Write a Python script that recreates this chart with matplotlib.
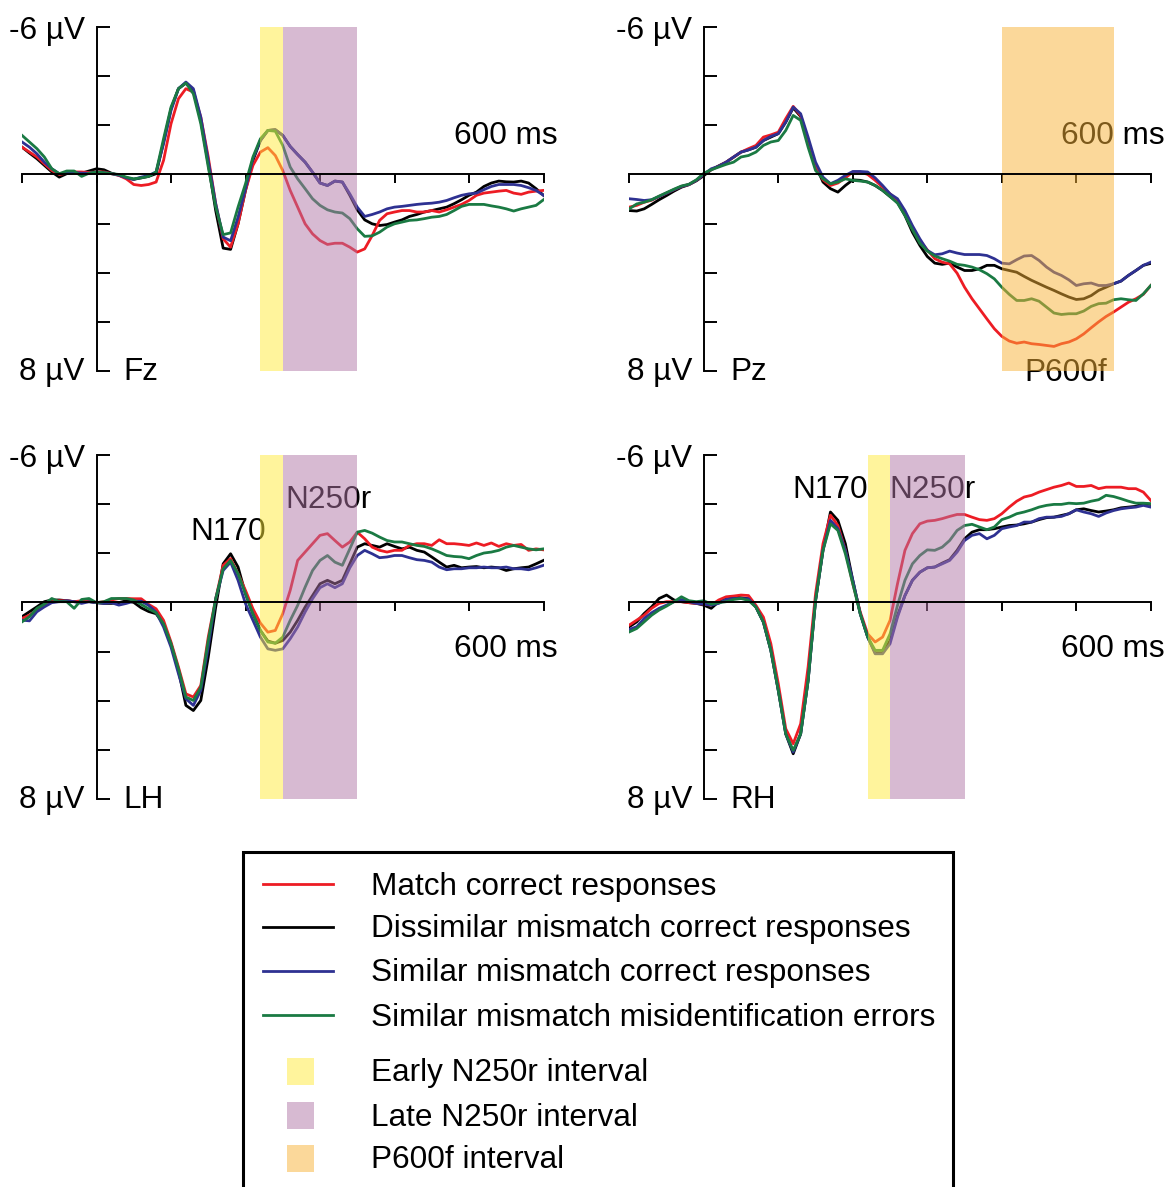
import numpy as np
import matplotlib
matplotlib.use("Agg")
import matplotlib.pyplot as plt
from matplotlib.lines import Line2D
from matplotlib.patches import Rectangle

plt.rcParams['font.family'] = ['Liberation Sans', 'DejaVu Sans']

# ---------------- data (µV, negative plotted upward) ----------------
time_ms = list(range(-100, 601, 10))

conditions = ["Match correct responses",
              "Dissimilar mismatch correct responses",
              "Similar mismatch correct responses",
              "Similar mismatch misidentification errors"]
line_colors = ["#ED1C24", "#000000", "#2E3192", "#1A7A43"]

interval_names = ["Early N250r interval", "Late N250r interval", "P600f interval"]
early_n250r = (220, 250)
late_n250r = (250, 350)
p600f = (400, 550)

fz_match = [-1.11, -0.91, -0.71, -0.43, -0.16, 0.00, -0.05, -0.10, -0.10, -0.08,
            -0.10, -0.10, -0.03, 0.04, 0.18, 0.41, 0.45, 0.41, 0.31, -0.57,
            -2.06, -3.08, -3.49, -3.35, -2.33, -0.71, 1.19, 2.62, 2.96, 2.01,
            0.65, -0.37, -0.91, -1.09, -0.77, -0.16, 0.65, 1.33, 2.01, 2.42,
            2.69, 2.85, 2.80, 2.80, 2.96, 3.16, 3.03, 2.49, 1.87, 1.60,
            1.53, 1.47, 1.47, 1.53, 1.53, 1.47, 1.53, 1.44, 1.33, 1.22,
            1.06, 0.85, 0.76, 0.72, 0.68, 0.65, 0.76, 0.81, 0.72, 0.68,
            0.65]
fz_dissim = [-1.11, -0.87, -0.64, -0.37, -0.10, 0.11, -0.03, -0.08, -0.05, -0.14,
             -0.23, -0.19, -0.05, 0.03, 0.14, 0.20, 0.14, 0.08, -0.03, -1.32,
             -2.67, -3.49, -3.72, -3.42, -2.20, -0.43, 1.47, 3.00, 3.05, 2.01,
             0.65, -0.57, -1.38, -1.79, -1.82, -1.59, -1.14, -0.81, -0.50, -0.09,
             0.35, 0.45, 0.27, 0.31, 0.85, 1.44, 1.85, 2.01, 2.08, 2.04,
             1.94, 1.85, 1.71, 1.63, 1.53, 1.47, 1.40, 1.33, 1.19, 1.03,
             0.85, 0.72, 0.49, 0.35, 0.27, 0.30, 0.31, 0.27, 0.35, 0.58,
             0.85]
fz_similar = [-1.32, -1.11, -0.84, -0.50, -0.23, -0.03, -0.05, -0.08, -0.05, -0.05,
              -0.10, -0.07, -0.03, 0.03, 0.14, 0.20, 0.11, 0.04, -0.10, -1.25,
              -2.60, -3.49, -3.76, -3.49, -2.33, -0.57, 1.19, 2.55, 2.70, 1.74,
              0.58, -0.64, -1.38, -1.79, -1.82, -1.59, -1.14, -0.81, -0.50, -0.09,
              0.35, 0.45, 0.27, 0.31, 0.79, 1.33, 1.71, 1.63, 1.53, 1.40,
              1.33, 1.30, 1.26, 1.22, 1.19, 1.17, 1.13, 1.06, 0.95, 0.85,
              0.79, 0.76, 0.62, 0.49, 0.41, 0.41, 0.41, 0.45, 0.54, 0.65,
              0.85]
fz_errors = [-1.59, -1.32, -1.05, -0.71, -0.23, -0.03, -0.14, -0.14, 0.08, -0.05,
             -0.10, -0.07, -0.03, 0.00, 0.11, 0.18, 0.14, 0.08, -0.10, -1.45,
             -2.74, -3.49, -3.72, -3.28, -2.06, -0.30, 1.33, 2.45, 2.38, 1.33,
             0.38, -0.71, -1.45, -1.79, -1.76, -1.18, -0.30, 0.18, 0.58, 0.99,
             1.26, 1.44, 1.53, 1.57, 1.80, 2.21, 2.52, 2.50, 2.35, 2.14,
             2.01, 1.94, 1.87, 1.85, 1.80, 1.74, 1.71, 1.63, 1.47, 1.30,
             1.22, 1.22, 1.22, 1.28, 1.33, 1.40, 1.49, 1.40, 1.33, 1.26,
             1.03]

pz_match = [1.33, 1.26, 1.13, 1.05, 0.90, 0.76, 0.62, 0.49, 0.41, 0.24,
            0.00, -0.20, -0.33, -0.50, -0.71, -0.91, -1.05, -1.18, -1.52, -1.61,
            -1.72, -2.27, -2.77, -2.40, -1.38, -0.37, 0.22, 0.45, 0.35, 0.14,
            -0.10, -0.10, 0.00, 0.24, 0.52, 0.79, 1.06, 1.60, 2.21, 2.69,
            3.07, 3.43, 3.57, 3.64, 4.02, 4.59, 5.06, 5.47, 5.88, 6.28,
            6.59, 6.78, 6.87, 6.82, 6.89, 6.92, 6.96, 7.00, 6.89, 6.82,
            6.69, 6.49, 6.24, 6.00, 5.78, 5.60, 5.40, 5.20, 5.06, 4.88,
            4.52]
pz_dissim = [1.47, 1.49, 1.40, 1.22, 1.03, 0.86, 0.68, 0.52, 0.42, 0.26,
             0.05, -0.19, -0.35, -0.50, -0.70, -0.91, -1.00, -1.11, -1.38, -1.52,
             -1.66, -2.13, -2.71, -2.36, -1.38, -0.37, 0.31, 0.58, 0.72, 0.45,
             0.22, 0.24, 0.31, 0.45, 0.65, 0.90, 1.13, 1.67, 2.35, 2.89,
             3.34, 3.61, 3.66, 3.61, 3.77, 3.91, 3.91, 3.84, 3.70, 3.70,
             3.84, 3.91, 3.98, 4.15, 4.31, 4.45, 4.59, 4.72, 4.86, 4.99,
             5.09, 5.06, 4.93, 4.72, 4.59, 4.45, 4.34, 4.11, 3.91, 3.70,
             3.62]
pz_similar = [0.99, 1.02, 1.06, 1.03, 0.90, 0.76, 0.62, 0.49, 0.41, 0.24,
              0.00, -0.23, -0.33, -0.50, -0.71, -0.91, -1.00, -1.11, -1.38, -1.55,
              -1.66, -2.13, -2.74, -2.47, -1.52, -0.50, 0.11, 0.38, 0.24, 0.04,
              -0.12, -0.12, -0.10, 0.14, 0.45, 0.79, 0.99, 1.47, 2.08, 2.62,
              3.09, 3.27, 3.23, 3.12, 3.20, 3.26, 3.26, 3.26, 3.30, 3.43,
              3.61, 3.64, 3.47, 3.32, 3.30, 3.50, 3.77, 3.98, 4.11, 4.29,
              4.52, 4.45, 4.42, 4.52, 4.52, 4.45, 4.34, 4.11, 3.91, 3.70,
              3.57]
pz_errors = [1.40, 1.20, 1.13, 1.03, 0.88, 0.74, 0.60, 0.47, 0.40, 0.22,
             -0.05, -0.19, -0.30, -0.41, -0.50, -0.71, -0.77, -0.91, -1.18, -1.32,
             -1.38, -1.79, -2.40, -2.20, -1.11, -0.16, 0.18, 0.38, 0.31, 0.18,
             0.24, 0.27, 0.31, 0.45, 0.65, 0.90, 1.17, 1.67, 2.25, 2.80,
             3.12, 3.32, 3.43, 3.53, 3.66, 3.70, 3.77, 3.88, 4.04, 4.25,
             4.59, 4.88, 5.13, 5.13, 5.06, 5.16, 5.40, 5.64, 5.70, 5.67,
             5.67, 5.56, 5.37, 5.26, 5.24, 5.10, 5.06, 5.10, 5.13, 4.86,
             4.52]

lh_match = [0.65, 0.52, 0.31, 0.11, -0.03, -0.07, -0.07, -0.03, -0.07, -0.07,
            0.01, -0.03, -0.10, -0.16, -0.16, -0.15, -0.15, 0.08, 0.26, 0.73,
            1.61, 2.63, 3.72, 3.85, 3.38, 1.41, -0.15, -1.51, -1.78, -1.17,
            -0.49, 0.26, 0.84, 1.21, 1.14, 0.46, -0.49, -1.71, -2.05, -2.39,
            -2.73, -2.80, -2.52, -2.25, -2.46, -2.86, -2.59, -2.25, -2.12, -2.05,
            -2.12, -2.12, -2.32, -2.39, -2.39, -2.32, -2.55, -2.39, -2.39, -2.36,
            -2.32, -2.42, -2.32, -2.42, -2.28, -2.39, -2.32, -2.36, -2.12, -2.18,
            -2.14]
lh_dissim = [0.58, 0.38, 0.18, -0.03, -0.10, -0.10, -0.07, -0.03, -0.03, -0.03,
             0.01, 0.04, 0.04, 0.01, -0.07, 0.00, 0.22, 0.37, 0.46, 0.87,
             1.68, 2.77, 4.19, 4.40, 3.99, 2.23, 0.19, -1.57, -1.98, -1.44,
             -0.35, 0.46, 1.14, 1.57, 1.66, 1.55, 1.21, 0.73, 0.19, -0.28,
             -0.76, -0.90, -0.76, -0.90, -1.57, -2.25, -2.39, -2.32, -2.25, -2.39,
             -2.28, -2.18, -2.25, -2.12, -2.05, -1.85, -1.64, -1.44, -1.51, -1.41,
             -1.44, -1.46, -1.41, -1.44, -1.41, -1.30, -1.37, -1.41, -1.44, -1.57,
             -1.71]
lh_similar = [0.72, 0.75, 0.38, 0.18, 0.01, -0.03, -0.07, -0.03, 0.04, -0.03,
              0.01, 0.04, 0.01, 0.11, 0.04, -0.05, -0.05, 0.12, 0.40, 1.00,
              1.82, 2.90, 3.92, 4.19, 3.58, 1.82, -0.15, -1.30, -1.64, -0.90,
              0.05, 0.73, 1.41, 1.89, 1.95, 1.89, 1.48, 1.00, 0.39, -0.15,
              -0.60, -0.76, -0.60, -0.76, -1.41, -1.91, -2.12, -1.98, -1.82, -1.85,
              -1.91, -1.91, -1.82, -1.74, -1.71, -1.64, -1.44, -1.33, -1.37, -1.37,
              -1.41, -1.41, -1.44, -1.41, -1.41, -1.44, -1.37, -1.37, -1.33, -1.41,
              -1.51]
lh_errors = [0.79, 0.58, 0.24, 0.07, -0.16, -0.03, -0.03, 0.24, -0.12, -0.16,
             0.01, -0.03, -0.16, -0.16, -0.16, -0.10, 0.08, 0.26, 0.42, 0.87,
             1.68, 2.70, 3.85, 3.99, 3.45, 1.55, -0.15, -1.37, -1.71, -1.17,
             -0.35, 0.46, 1.14, 1.61, 1.66, 1.41, 0.73, 0.12, -0.62, -1.30,
             -1.71, -1.91, -1.64, -1.51, -2.18, -2.86, -2.93, -2.82, -2.66, -2.52,
             -2.46, -2.46, -2.39, -2.32, -2.28, -2.18, -2.05, -1.91, -1.87, -1.85,
             -1.78, -1.91, -2.01, -2.05, -2.12, -2.25, -2.32, -2.25, -2.18, -2.14,
             -2.18]

rh_match = [0.92, 0.72, 0.52, 0.24, 0.04, -0.03, -0.03, -0.03, 0.01, 0.04,
            0.07, 0.11, -0.10, -0.23, -0.26, -0.30, -0.28, 0.12, 0.60, 1.68,
            3.31, 5.14, 5.75, 4.94, 2.63, -0.35, -2.39, -3.55, -3.13, -2.12,
            -0.76, 0.39, 1.28, 1.61, 1.41, 0.73, -0.76, -2.12, -2.80, -3.20,
            -3.31, -3.34, -3.41, -3.50, -3.58, -3.58, -3.47, -3.37, -3.34, -3.41,
            -3.61, -3.88, -4.12, -4.29, -4.36, -4.49, -4.59, -4.69, -4.76, -4.86,
            -4.72, -4.72, -4.76, -4.63, -4.69, -4.69, -4.69, -4.63, -4.63, -4.49,
            -4.15]
rh_dissim = [0.99, 0.79, 0.45, 0.18, -0.16, -0.30, -0.10, -0.03, 0.01, 0.04,
             0.11, 0.24, -0.03, -0.16, -0.23, -0.19, -0.15, 0.19, 0.80, 1.95,
             3.58, 5.35, 6.16, 5.35, 3.18, -0.08, -2.12, -3.68, -3.34, -2.39,
             -0.90, 0.46, 1.41, 2.05, 2.05, 1.55, 0.53, -0.28, -0.90, -1.23,
             -1.41, -1.44, -1.60, -1.74, -2.12, -2.59, -2.86, -2.96, -2.96, -3.00,
             -3.07, -3.13, -3.15, -3.20, -3.27, -3.37, -3.45, -3.47, -3.54, -3.61,
             -3.77, -3.81, -3.74, -3.68, -3.72, -3.77, -3.85, -3.88, -3.91, -4.02,
             -3.99]
rh_similar = [1.10, 0.99, 0.65, 0.42, 0.24, 0.11, -0.03, -0.12, -0.03, 0.04,
              0.07, 0.11, 0.04, -0.12, -0.16, -0.16, -0.15, 0.19, 0.80, 1.95,
              3.58, 5.35, 6.09, 5.35, 3.18, -0.08, -2.12, -3.34, -3.00, -2.12,
              -0.90, 0.46, 1.41, 2.09, 2.09, 1.68, 0.60, -0.28, -0.90, -1.23,
              -1.41, -1.44, -1.57, -1.71, -2.05, -2.52, -2.73, -2.80, -2.59, -2.73,
              -3.00, -3.07, -3.13, -3.27, -3.27, -3.41, -3.47, -3.47, -3.50, -3.61,
              -3.77, -3.68, -3.61, -3.50, -3.64, -3.74, -3.81, -3.85, -3.88, -3.95,
              -3.88]
rh_errors = [1.20, 1.06, 0.79, 0.52, 0.31, 0.15, -0.03, -0.23, -0.07, -0.03,
             -0.07, 0.07, 0.01, -0.03, -0.12, -0.16, -0.08, 0.19, 0.80, 1.95,
             3.58, 5.35, 6.02, 5.35, 3.18, -0.08, -2.12, -3.20, -2.93, -1.98,
             -0.76, 0.46, 1.41, 1.95, 1.95, 1.28, 0.12, -0.90, -1.57, -1.91,
             -2.14, -2.12, -2.25, -2.52, -2.93, -3.13, -3.18, -3.07, -2.96, -3.07,
             -3.37, -3.47, -3.61, -3.68, -3.77, -3.88, -3.95, -3.99, -3.99, -4.04,
             -4.02, -4.04, -4.12, -4.18, -4.36, -4.31, -4.22, -4.12, -4.04, -4.04,
             -4.02]

# ---------------- styling ----------------
W, H = 1173, 1187
FS = 22.7
LW = 2.0
span_alpha = 0.5
c_yellow = "#FFEB3B"
c_purple = "#B177A7"
c_orange = "#F9B337"

fig = plt.figure(figsize=(W / 100, H / 100), dpi=100)


def make_axes(x_left_px, y_top_px):
    width_px, height_px = 521.5, 344
    return fig.add_axes([x_left_px / W, 1 - (y_top_px + height_px) / H,
                         width_px / W, height_px / H])


def setup(ax):
    ax.set_xlim(-100, 600)
    ax.set_ylim(8, -6)
    ax.patch.set_alpha(0)
    for s in ["top", "right"]:
        ax.spines[s].set_visible(False)
    ax.spines["left"].set_position(("data", 0))
    ax.spines["bottom"].set_position(("data", 0))
    for s in ["left", "bottom"]:
        ax.spines[s].set_linewidth(1.4)
        ax.spines[s].set_zorder(2.5)
    ax.set_xticks(range(-100, 601, 100))
    ax.set_yticks(range(-6, 9, 2))
    ax.tick_params(axis="y", direction="in", length=9.4, width=1.4,
                   labelleft=False)
    ax.tick_params(axis="x", direction="out", length=6.3, width=1.4,
                   labelbottom=False)


panels = [
    ("Fz", 22.0, 27, [fz_match, fz_dissim, fz_similar, fz_errors], "above", "n250"),
    ("Pz", 629.3, 27, [pz_match, pz_dissim, pz_similar, pz_errors], "above", "p600"),
    ("LH", 22.0, 455, [lh_match, lh_dissim, lh_similar, lh_errors], "below", "n250"),
    ("RH", 629.3, 455, [rh_match, rh_dissim, rh_similar, rh_errors], "below", "n250"),
]

draw_order = [1, 0, 2, 3]  # black, red, blue, green (green on top)

for name, xl, yt, series, ms_pos, shade in panels:
    ax = make_axes(xl, yt)
    setup(ax)
    for i in draw_order:
        ax.plot(time_ms, series[i], color=line_colors[i], lw=LW, zorder=2,
                solid_joinstyle="round")
    if shade == "n250":
        ax.axvspan(*early_n250r, color=c_yellow, alpha=span_alpha, lw=0, zorder=2.3)
        ax.axvspan(*late_n250r, color=c_purple, alpha=span_alpha, lw=0, zorder=2.3)
    else:
        ax.axvspan(*p600f, color=c_orange, alpha=span_alpha, lw=0, zorder=2.3)

    ax.text(-16, -5.85, "-6 µV", ha="right", va="center", fontsize=FS, clip_on=False, zorder=1)
    ax.text(-16, 8.05, "8 µV", ha="right", va="center", fontsize=FS, clip_on=False, zorder=1)
    ax.text(36, 8.05, name, ha="left", va="center", fontsize=FS, clip_on=False, zorder=1)
    ms_y = -1.55 if ms_pos == "above" else 1.9
    ax.text(619, ms_y, "600 ms", ha="right", va="center", fontsize=FS,
            clip_on=False, zorder=1)
    if name == "LH":
        ax.text(176.5, -2.85, "N170", ha="center", va="center", fontsize=FS, zorder=1)
        ax.text(311, -4.17, "N250r", ha="center", va="center", fontsize=FS, zorder=1)
    if name == "RH":
        ax.text(169.5, -4.58, "N170", ha="center", va="center", fontsize=FS, zorder=1)
        ax.text(307.5, -4.58, "N250r", ha="center", va="center", fontsize=FS, zorder=1)
    if name == "Pz":
        ax.text(486, 8.1, "P600f", ha="center", va="center", fontsize=FS,
                clip_on=False, zorder=1)

# ---------------- legend ----------------
fig.add_artist(Rectangle((243 / W, -0.05), (953 - 243) / W, (1187 - 852) / H + 0.05,
                         transform=fig.transFigure, fill=False, ec="black", lw=2.2))
line_rows = [884, 927, 971, 1015]
for i, yy in enumerate(line_rows):
    fy = 1 - yy / H
    fig.add_artist(Line2D([263 / W, 333 / W], [fy, fy], transform=fig.transFigure,
                          color=line_colors[i], lw=LW))
    fig.text(371 / W, 1 - (yy + 10.5) / H, conditions[i], ha="left", va="baseline",
             fontsize=FS)
patch_rows = [1071, 1115, 1158]
patch_cols = [c_yellow, c_purple, c_orange]
for i, yy in enumerate(patch_rows):
    fig.add_artist(Rectangle((287 / W, 1 - (yy + 13.5) / H), 27 / W, 27 / H,
                             transform=fig.transFigure, color=patch_cols[i],
                             alpha=span_alpha, lw=0))
    fig.text(371 / W, 1 - (yy + 10.5) / H, interval_names[i], ha="left",
             va="baseline", fontsize=FS)

fig.savefig("out.png", dpi=100)
